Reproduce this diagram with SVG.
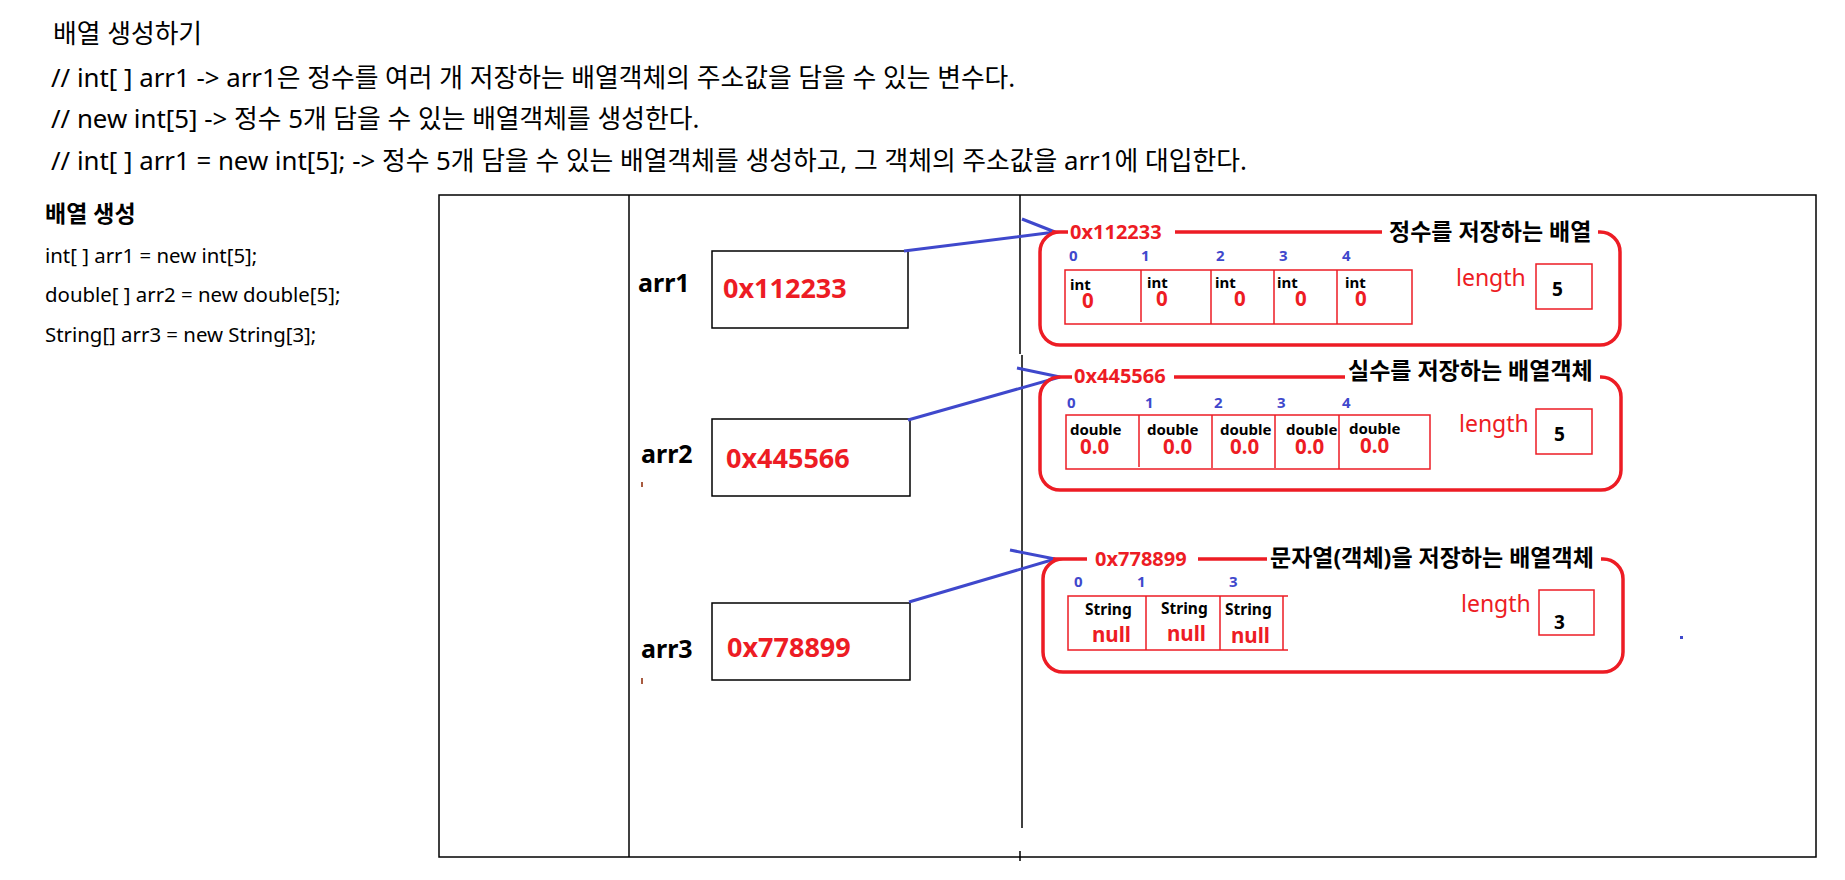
<svg xmlns="http://www.w3.org/2000/svg" width="1845" height="880" viewBox="0 0 1845 880">
<style>
text{font-family:"Noto Sans","Noto Sans CJK KR",sans-serif;}
.hdr{font-size:25.8px;fill:#000;}
.code{font-size:20.4px;fill:#000;}
.codeh{font-size:23px;font-weight:bold;fill:#000;}
.var{font-size:25px;font-weight:bold;fill:#000;}
.addr{font-size:27px;font-weight:bold;fill:#ED1C24;}
.lab{font-size:20px;font-weight:bold;fill:#ED1C24;}
.title{font-size:23px;font-weight:bold;fill:#000;}
.idx{font-size:15px;font-weight:bold;fill:#3F48CC;}
.typ{font-size:15px;font-weight:bold;fill:#000;}
.typs{font-size:15.5px;font-weight:bold;fill:#000;}
.val{font-size:20.5px;font-weight:bold;fill:#ED1C24;}
.len{font-size:23px;fill:#ED1C24;}
.num{font-size:19px;font-weight:bold;fill:#000;}
.frame{fill:none;stroke:#000;stroke-width:1.5;}
.box{fill:none;stroke:#000;stroke-width:1.5;}
.obj{fill:none;stroke:#ED1C24;stroke-width:3.5;}
.cell{fill:none;stroke:#ED1C24;stroke-width:1.5;}
.conn{fill:none;stroke:#3F48CC;stroke-width:3;stroke-linejoin:miter;}
</style>

<g id="header">
<text class="hdr" x="53" y="43">배열 생성하기</text>
<text class="hdr" x="51" y="87">// int[ ] arr1 -&gt; arr1은 정수를 여러 개 저장하는 배열객체의 주소값을 담을 수 있는 변수다.</text>
<text class="hdr" x="51" y="128">// new int[5] -&gt; 정수 5개 담을 수 있는 배열객체를 생성한다.</text>
<text class="hdr" x="51" y="170">// int[ ] arr1 = new int[5]; -&gt; 정수 5개 담을 수 있는 배열객체를 생성하고, 그 객체의 주소값을 arr1에 대입한다.</text>
</g>

<g id="code">
<text class="codeh" x="45" y="222">배열 생성</text>
<text class="code" x="45" y="263">int[ ] arr1 = new int[5];</text>
<text class="code" x="45" y="302">double[ ] arr2 = new double[5];</text>
<text class="code" x="45" y="342">String[] arr3 = new String[3];</text>
</g>

<g id="frame">
<rect class="frame" x="439" y="195" width="1377" height="662"/>
<line class="frame" x1="629" y1="195" x2="629" y2="857"/>
<line class="frame" x1="1020" y1="195" x2="1020" y2="354"/>
<line class="frame" x1="1022" y1="355" x2="1022" y2="828"/>
<line class="frame" x1="1020" y1="851" x2="1020" y2="861"/>
<line x1="642" y1="482" x2="642" y2="487" stroke="#8B2500" stroke-width="1.5"/>
<line x1="642" y1="678" x2="642" y2="684" stroke="#8B2500" stroke-width="1.5"/>
<rect x="1680" y="636" width="3" height="3" fill="#3F48CC"/>
</g>

<g id="var-arr1">
<text class="var" x="638" y="292">arr1</text>
<rect class="box" x="712" y="251" width="196" height="77"/>
<text class="addr" x="723" y="298">0x112233</text>
</g>
<g id="var-arr2">
<text class="var" x="641" y="463">arr2</text>
<rect class="box" x="712" y="419" width="198" height="77"/>
<text class="addr" x="726" y="468">0x445566</text>
</g>
<g id="var-arr3">
<text class="var" x="641" y="658">arr3</text>
<rect class="box" x="712" y="603" width="198" height="77"/>
<text class="addr" x="727" y="657">0x778899</text>
</g>

<g id="connectors">
<polyline class="conn" points="904,251 1055,232 1022,219"/>
<polyline class="conn" points="908,420 1060,377 1017,368"/>
<polyline class="conn" points="909,602 1055,559 1010,550"/>
</g>

<g id="array-int">
<path class="obj" d="M1052,232 H1068 M1175,232 H1382 M1598,232 H1600 A20,20 0 0 1 1620,252 V325 A20,20 0 0 1 1600,345 H1060 A20,20 0 0 1 1040,325 V252 A20,20 0 0 1 1060,232 H1068"/>
<text class="lab" x="1070" y="239">0x112233</text>
<text class="title" x="1389" y="240">정수를 저장하는 배열</text>
<text class="idx" x="1069" y="261">0</text>
<text class="idx" x="1141" y="261">1</text>
<text class="idx" x="1216" y="261">2</text>
<text class="idx" x="1279" y="261">3</text>
<text class="idx" x="1342" y="261">4</text>
<rect class="cell" x="1065" y="270" width="347" height="54"/>
<path class="cell" d="M1141,270 V322 M1211,270 V324 M1274,270 V324 M1337,270 V324"/>
<text class="typ" x="1070" y="290">int</text>
<text class="typ" x="1147" y="288">int</text>
<text class="typ" x="1215" y="288">int</text>
<text class="typ" x="1277" y="288">int</text>
<text class="typ" x="1345" y="288">int</text>
<text class="val" x="1082" y="308">0</text>
<text class="val" x="1156" y="306">0</text>
<text class="val" x="1234" y="306">0</text>
<text class="val" x="1295" y="306">0</text>
<text class="val" x="1355" y="306">0</text>
<text class="len" x="1456" y="286">length</text>
<rect class="cell" x="1536" y="264" width="56" height="45"/>
<text class="num" x="1552" y="296">5</text>
</g>

<g id="array-double">
<path class="obj" d="M1060,377 H1072 M1174,377 H1345 M1600,377 H1601 A20,20 0 0 1 1621,397 V470 A20,20 0 0 1 1601,490 H1060 A20,20 0 0 1 1040,470 V397 A20,20 0 0 1 1060,377 H1072"/>
<text class="lab" x="1074" y="383">0x445566</text>
<text class="title" x="1348" y="379">실수를 저장하는 배열객체</text>
<text class="idx" x="1067" y="408">0</text>
<text class="idx" x="1145" y="408">1</text>
<text class="idx" x="1214" y="408">2</text>
<text class="idx" x="1277" y="408">3</text>
<text class="idx" x="1342" y="408">4</text>
<rect class="cell" x="1066" y="415" width="364" height="54"/>
<path class="cell" d="M1139,415 V467 M1212,415 V468 M1275,415 V468 M1339,415 V469"/>
<text class="typ" x="1070" y="435">double</text>
<text class="typ" x="1147" y="435">double</text>
<text class="typ" x="1220" y="435">double</text>
<text class="typ" x="1286" y="435">double</text>
<text class="typ" x="1349" y="434">double</text>
<text class="val" x="1080" y="454">0.0</text>
<text class="val" x="1163" y="454">0.0</text>
<text class="val" x="1230" y="454">0.0</text>
<text class="val" x="1295" y="454">0.0</text>
<text class="val" x="1360" y="453">0.0</text>
<text class="len" x="1459" y="432">length</text>
<rect class="cell" x="1536" y="409" width="56" height="45"/>
<text class="num" x="1554" y="441">5</text>
</g>

<g id="array-string">
<path class="obj" d="M1053,559 H1087 M1198,559 H1267 M1601,559 H1603 A20,20 0 0 1 1623,579 V652 A20,20 0 0 1 1603,672 H1063 A20,20 0 0 1 1043,652 V579 A20,20 0 0 1 1063,559"/>
<text class="lab" x="1095" y="566">0x778899</text>
<text class="title" x="1270" y="566">문자열(객체)을 저장하는 배열객체</text>
<text class="idx" x="1074" y="587">0</text>
<text class="idx" x="1137" y="587">1</text>
<text class="idx" x="1229" y="587">3</text>
<path class="cell" d="M1288,596 H1068 V650 H1288 M1146,596 V650 M1220,596 V650 M1283,596 V650"/>
<text class="typs" x="1085" y="615">String</text>
<text class="typs" x="1161" y="614">String</text>
<text class="typs" x="1225" y="615">String</text>
<text class="val" x="1092" y="642">null</text>
<text class="val" x="1167" y="641">null</text>
<text class="val" x="1231" y="643">null</text>
<text class="len" x="1461" y="612">length</text>
<rect class="cell" x="1539" y="590" width="55" height="45"/>
<text class="num" x="1554" y="629">3</text>
</g>
</svg>
